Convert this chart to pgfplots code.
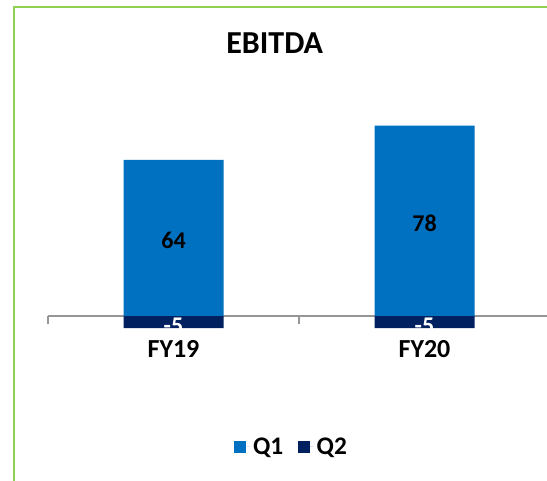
\documentclass[border=0pt]{standalone}
\usepackage{pgfplots}
\pgfplotsset{compat=1.18}
\usepackage{fontspec}
\setmainfont{Carlito}
\definecolor{qone}{HTML}{0070C0}
\definecolor{qtwo}{HTML}{002060}
\definecolor{frame}{HTML}{92D050}
\definecolor{axisgray}{HTML}{969696}
\begin{document}
\begin{tikzpicture}
\clip (0,0) rectangle (410.25pt,360pt);
\fill[white] (0,0) rectangle (410.25pt,360pt);
\draw[frame, line width=1.5pt] (10.3pt,-10pt) rectangle (420pt,355pt);
\node[font=\bfseries\fontsize{24}{26}\selectfont] at (206pt,328pt) {EBITDA};
\begin{axis}[
  at={(36pt,86.4pt)}, anchor=south west,
  scale only axis, width=376.5pt, height=201.3pt,
  xmin=0.5, xmax=2.5, ymin=-20, ymax=90,
  /pgf/number format/assume math mode=true,
  axis x line*=middle, axis y line=none,
  x axis line style={axisgray, line width=1.1pt},
  xtick={1,2}, xticklabels={FY19,FY20},
  major tick length=0pt,
  xticklabel style={font=\bfseries\fontsize{19.5}{21}\selectfont, anchor=center, inner sep=0pt, yshift=-25pt},
  extra x ticks={0.5,1.5,2.5}, extra x tick labels={},
  extra x tick style={major tick length=6pt, tick align=outside, tick style={axisgray, line width=1.1pt}},
  ybar, bar width=75pt, bar shift=0pt,
  clip=false,
  visualization depends on={rawy \as \rawy},
  nodes near coords,
  nodes near coords style={anchor=center, inner sep=0pt, font=\bfseries\fontsize{18}{20}\selectfont, shift={(axis direction cs:0,-\rawy/2)}},
  legend columns=2,
  legend style={draw=none, fill=none, at={(axis description cs:0.486,-0.306)}, anchor=center,
    font=\bfseries\fontsize{19}{21}\selectfont,
    /tikz/every even column/.append style={column sep=9pt}},
  legend image code/.code={\fill[#1] (0pt,-4.5pt) rectangle (9pt,4.5pt); \path (0pt,0pt) -- (12pt,0pt);},
]
\addplot[fill=qone, draw=none, nodes near coords style={text=black, yshift=-1.5pt}] coordinates {(1,64) (2,78)};
\addplot[fill=qtwo, draw=none, nodes near coords style={text=white, yshift=-3pt}] coordinates {(1,-5) (2,-5)};
\legend{Q1,Q2}
\end{axis}
\end{tikzpicture}
\end{document}
